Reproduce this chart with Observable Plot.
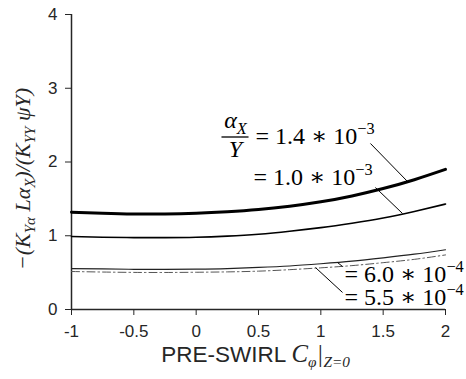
<!DOCTYPE html>
<html>
<head>
<meta charset="utf-8">
<script src="https://cdn.jsdelivr.net/npm/d3@7"></script>
<script src="https://cdn.jsdelivr.net/npm/@observablehq/plot@0.6"></script>
<style>
  body { margin: 0; background: #fff; }
</style>
</head>
<body>
<div id="chart"></div>
<script>
// Pre-swirl coefficient at the seal inlet (x axis)
const swirl = [-1, -0.75, -0.5, -0.25, 0, 0.25, 0.5, 0.75, 1, 1.25, 1.5, 1.75, 2];

// Stiffness ratio for each misalignment/eccentricity ratio alpha_X / Y
const ratio14e3 = [1.32, 1.305, 1.295, 1.295, 1.305, 1.325, 1.355, 1.40, 1.46, 1.54, 1.64, 1.76, 1.90];
const ratio10e3 = [0.99, 0.98, 0.975, 0.975, 0.98, 0.995, 1.02, 1.06, 1.11, 1.17, 1.24, 1.33, 1.43];
const ratio60e4 = [0.555, 0.55, 0.545, 0.545, 0.548, 0.555, 0.57, 0.59, 0.62, 0.655, 0.70, 0.75, 0.81];
const ratio55e4 = [0.515, 0.508, 0.503, 0.502, 0.505, 0.51, 0.52, 0.54, 0.565, 0.595, 0.635, 0.68, 0.74];

const xTicks = [-1, -0.5, 0, 0.5, 1, 1.5, 2];
const yTicks = [0, 1, 2, 3, 4];

// Curve labels ("_{}" subscript, "^{}" superscript) and their leader lines
const labelText = ["= 1.4 ∗ 10^{−3}", "= 1.0 ∗ 10^{−3}", "= 6.0 ∗ 10^{−4}", "= 5.5 ∗ 10^{−4}"];
const labelX = [0.476, 0.460, 1.190, 1.190];
const labelY = [2.342, 1.786, 0.471, 0.159];
const leaderX1 = [1.398, 1.438, 1.134, 0.957];
const leaderY1 = [2.251, 1.654, 0.637, 0.569];
const leaderX2 = [1.695, 1.655, 1.174, 1.174];
const leaderY2 = [1.736, 1.302, 0.583, 0.231];

// Fraction alpha_X / Y in front of the first label
const fracTop = "α_{X}";
const fracBottom = "Y";
const fracX = 0.315;
const fracTopY = 2.563;
const fracBottomY = 2.169;
const fracBar = {x1: 0.203, x2: 0.420, y: 2.339};

const xLabel = "PRE-SWIRL ~{C}_{φ}~{|}_{Z=0}";
const yLabel = "−(K_{Yα} Lα_{X})/(K_{YY} ψY)";

const rows = (vals) => swirl.map((x, i) => ({x, y: vals[i]}));
const labels = labelText.map((text, i) => ({text, x: labelX[i], y: labelY[i]}));
const leaders = leaderX1.map((x1, i) => ({x1, y1: leaderY1[i], x2: leaderX2[i], y2: leaderY2[i]}));

const serif = "'Liberation Serif', 'DejaVu Serif', serif";
const sans = "'Liberation Sans', Arial, sans-serif";

const svg = Plot.plot({
  width: 466,
  height: 379,
  marginLeft: 71,
  marginRight: 21,
  marginTop: 14,
  marginBottom: 70,
  style: {fontSize: "17px", fontFamily: sans, color: "#262626", background: "#fff"},
  x: {domain: [-1, 2], ticks: xTicks, tickSize: 6, tickPadding: 9, tickFormat: d => String(d), label: null},
  y: {domain: [0, 4], ticks: yTicks, tickSize: 6, tickPadding: 8, tickFormat: d => String(d), label: null},
  marks: [
    Plot.ruleX([-1], {stroke: "#262626", strokeWidth: 1.5}),
    Plot.ruleY([0], {stroke: "#262626", strokeWidth: 1.5}),
    Plot.line(rows(ratio55e4), {x: "x", y: "y", curve: "natural", stroke: "#555", strokeWidth: 1, strokeDasharray: "8,3,1.5,3"}),
    Plot.line(rows(ratio60e4), {x: "x", y: "y", curve: "natural", stroke: "#222", strokeWidth: 1.2}),
    Plot.line(rows(ratio10e3), {x: "x", y: "y", curve: "natural", stroke: "#000", strokeWidth: 1.6}),
    Plot.line(rows(ratio14e3), {x: "x", y: "y", curve: "natural", stroke: "#000", strokeWidth: 3}),
    Plot.link(leaders, {x1: "x1", y1: "y1", x2: "x2", y2: "y2", stroke: "#000", strokeWidth: 1}),
    Plot.link([fracBar], {x1: "x1", x2: "x2", y1: "y", y2: "y", stroke: "#000", strokeWidth: 1.3}),
    Plot.text(labels, {x: "x", y: "y", text: "text", textAnchor: "start", fontSize: 24, fontFamily: serif, fill: "#000"}),
    Plot.text([fracTop], {x: () => fracX, y: () => fracTopY, text: d => d, fontSize: 24, fontFamily: serif, fontStyle: "italic", fill: "#000"}),
    Plot.text([fracBottom], {x: () => fracX, y: () => fracBottomY, text: d => d, fontSize: 24, fontFamily: serif, fontStyle: "italic", fill: "#000"}),
    Plot.text([xLabel], {frameAnchor: "bottom", textAnchor: "middle", dx: -3, dy: 52, text: d => d, fontSize: 22.5, fontFamily: sans, fill: "#262626"}),
    Plot.text([yLabel], {frameAnchor: "left", textAnchor: "middle", dx: -49, dy: 17, rotate: -90, text: d => d, fontSize: 22, fontFamily: serif, fontStyle: "italic", fill: "#262626"})
  ]
});

// Turn "_{..}", "^{..}" and "~{..}" (serif italic) markup into tspans
function richify(el, fs) {
  const src = el.textContent;
  el.textContent = "";
  const re = /([_^~])\{([^}]*)\}|([^_^~]+)/g;
  let m, offset = 0;
  while ((m = re.exec(src))) {
    const t = document.createElementNS("http://www.w3.org/2000/svg", "tspan");
    let target = 0;
    if (m[1] === "^") {
      target = -0.42 * fs;
      t.setAttribute("font-size", (0.68 * fs) + "px");
    } else if (m[1] === "_") {
      target = 0.24 * fs;
      t.setAttribute("font-size", (0.68 * fs) + "px");
      t.setAttribute("font-family", serif);
      t.setAttribute("font-style", "italic");
    } else if (m[1] === "~") {
      t.setAttribute("font-family", serif);
      t.setAttribute("font-style", "italic");
      t.setAttribute("font-size", (1.1 * fs) + "px");
    }
    if (target !== offset) t.setAttribute("dy", (target - offset) + "px");
    offset = target;
    t.textContent = m[1] ? m[2] : m[3];
    el.appendChild(t);
  }
}
document.getElementById("chart").appendChild(svg);
d3.select(svg).selectAll("text").each(function () {
  if (!/[_^~]\{/.test(this.textContent)) return;
  const g = this.closest("g[font-size]");
  const fs = parseFloat(this.getAttribute("font-size") || (g && g.getAttribute("font-size")) || getComputedStyle(this).fontSize) || 20;
  richify(this, fs);
});
</script>
</body>
</html>
